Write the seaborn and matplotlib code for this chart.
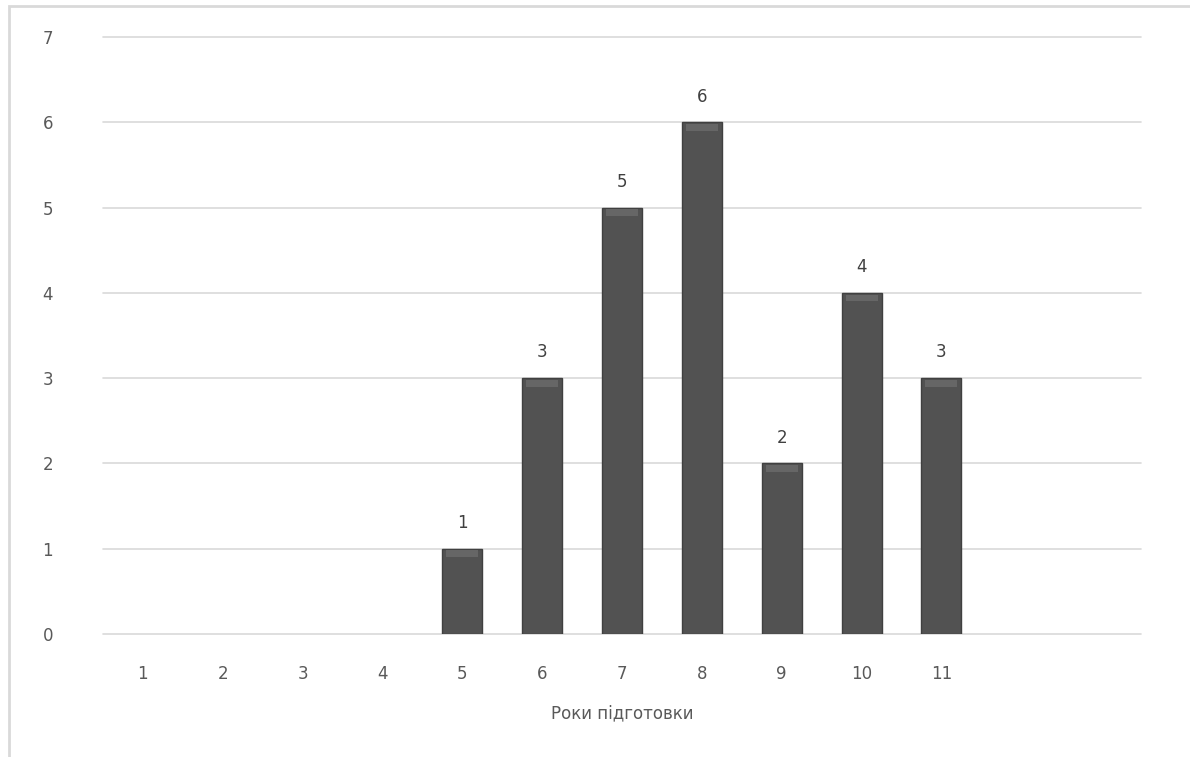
import numpy as np
import pandas as pd
import matplotlib
matplotlib.use("Agg")
import matplotlib.pyplot as plt
import seaborn as sns
from matplotlib.patches import Rectangle

# дані
years = ["1", "2", "3", "4", "5", "6", "7", "8", "9", "10", "11"]
counts = [0, 0, 0, 0, 1, 3, 5, 6, 2, 4, 3]
x_label = "Роки підготовки"

df = pd.DataFrame({"year": years, "count": counts})

sns.set_theme(style="white")
plt.rcParams['font.family'] = ['DejaVu Sans']

fig = plt.figure(figsize=(11.9, 7.57), dpi=100)
ax = fig.add_axes([103 / 1190, 1 - 634 / 757, (1141 - 103) / 1190, (634 - 37) / 757])

sns.barplot(data=df, x="year", y="count", order=years, color="#525252",
            width=0.5, saturation=1, edgecolor="#404040", linewidth=1, ax=ax, zorder=3)

# світліша верхня кромка стовпців, підписи значень
for p in list(ax.patches):
    h = p.get_height()
    if h <= 0:
        p.set_visible(False)
        continue
    ax.add_patch(Rectangle((p.get_x() + 0.05, h - 0.1), p.get_width() - 0.1, 0.08,
                           facecolor="#666666", edgecolor="none", zorder=4))
    ax.annotate(f"{int(h)}", (p.get_x() + p.get_width() / 2, h),
                xytext=(0, 12), textcoords="offset points",
                ha="center", va="bottom", fontsize=12, color="#404040")

ax.set_xlim(-0.5, 12.5)
ax.set_ylim(0, 7)
ax.set_yticks(range(0, 8))
ax.yaxis.grid(True, color="#d9d9d9", linewidth=1.2, zorder=0)
for gl in ax.get_ygridlines():
    gl.set_clip_on(False)
ax.xaxis.grid(False)
for s in ax.spines.values():
    s.set_visible(False)

ax.tick_params(axis="y", length=0, pad=36, labelsize=12, labelcolor="#595959")
ax.tick_params(axis="x", length=0, pad=22, labelsize=12, labelcolor="#595959")
ax.set_ylabel("")
ax.set_xlabel(x_label, fontsize=12, color="#595959", labelpad=16)

# рамка області діаграми
fig.patches.append(Rectangle((8.5 / 1190, -0.05), 1.2, 1 - 5.5 / 757 + 0.05,
                             transform=fig.transFigure, fill=False,
                             edgecolor="#d9d9d9", linewidth=2))

fig.savefig("out.png", dpi=100)
